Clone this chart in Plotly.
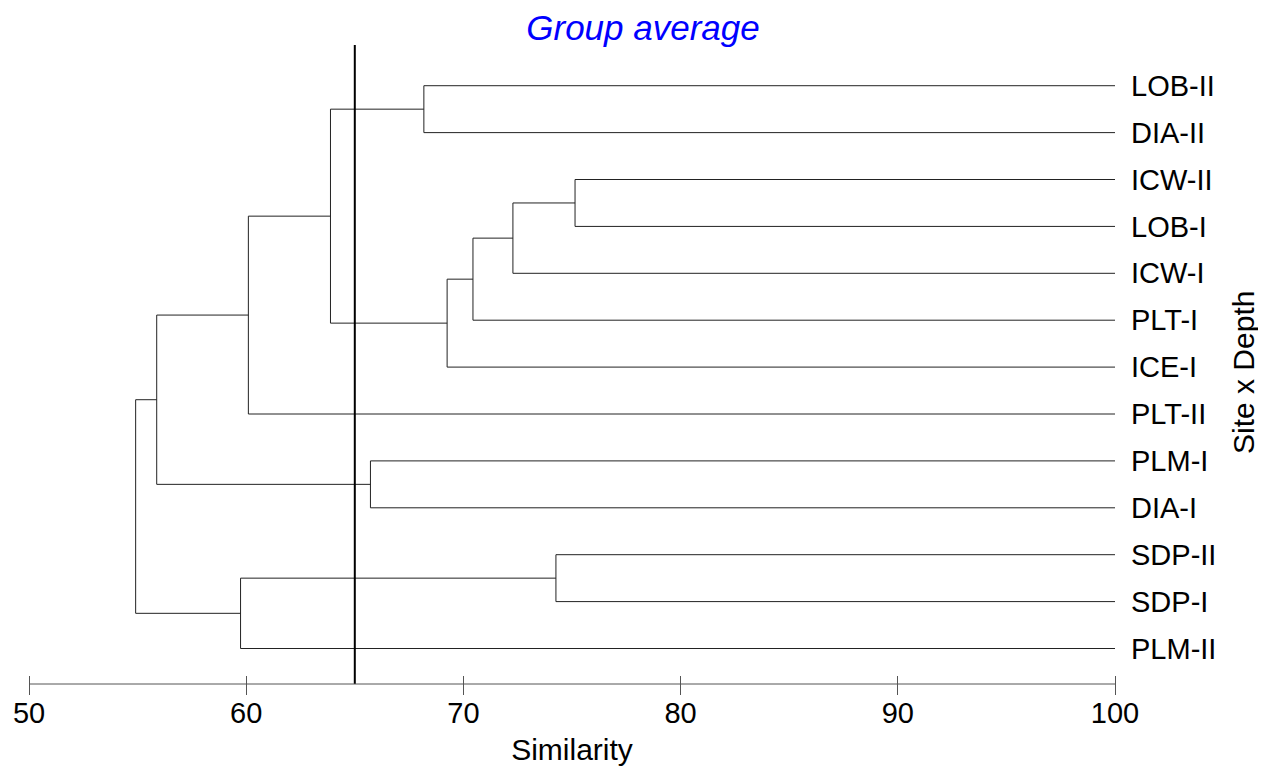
import plotly.graph_objects as go

# Leaves in display order (top to bottom)
leaves = ["LOB-II", "DIA-II", "ICW-II", "LOB-I", "ICW-I", "PLT-I", "ICE-I",
          "PLT-II", "PLM-I", "DIA-I", "SDP-II", "SDP-I", "PLM-II"]

# Merge steps: children (leaf name or "m<k>" for earlier merge) and similarity level
merge_left = ["LOB-II", "ICW-II", "m1", "m2", "m3", "m0", "m5", "PLM-I", "m6", "SDP-II", "m9", "m8"]
merge_right = ["DIA-II", "LOB-I", "ICW-I", "PLT-I", "ICE-I", "m4", "PLT-II", "DIA-I", "m7", "SDP-I", "PLM-II", "m10"]
merge_sim = [68.18, 75.14, 72.28, 70.44, 69.25, 63.88, 60.10, 65.72, 55.88, 74.26, 59.74, 54.91]

cut_level = 65
x_ticks = [50, 60, 70, 80, 90, 100]

# Build dendrogram coordinates
node_pos = {name: (100.0, float(i)) for i, name in enumerate(leaves)}
xs, ys = [], []
for k, (a, b, s) in enumerate(zip(merge_left, merge_right, merge_sim)):
    xa, ya = node_pos[a]
    xb, yb = node_pos[b]
    xs += [xa, s, s, xb, None]
    ys += [ya, ya, yb, yb, None]
    node_pos[f"m{k}"] = (s, (ya + yb) / 2)

FONT = "Liberation Sans, Arial, sans-serif"
W, H = 1258, 758
ML, MR, MT, MB = 21, 151, 37, 82
plot_h = H - MT - MB

fig = go.Figure()
fig.add_trace(go.Scatter(x=xs, y=ys, mode="lines",
                         line=dict(color="#222222", width=1),
                         hoverinfo="skip", showlegend=False))

# similarity cut line
fig.add_shape(type="line", x0=cut_level, x1=cut_level, xref="x",
              y0=0, y1=1, yref="paper",
              line=dict(color="black", width=2))
# x axis baseline
fig.add_shape(type="line", x0=50, x1=100, xref="x", y0=0, y1=0, yref="paper",
              line=dict(color="#555555", width=1))

fig.add_annotation(text="Site x Depth", textangle=-90, showarrow=False,
                   xref="paper", x=1, xanchor="center", xshift=128,
                   yref="paper", y=1 - (365 - MT) / plot_h, yanchor="middle",
                   font=dict(family=FONT, size=30, color="black"))

fig.update_layout(
    width=W, height=H,
    paper_bgcolor="white", plot_bgcolor="white",
    margin=dict(l=ML, r=MR, t=MT, b=MB, autoexpand=False),
    font=dict(family=FONT, size=29, color="black"),
    title=dict(text="Group average", x=635 / W, xref="container", xanchor="center",
               y=1 - 20 / H, yref="container", yanchor="middle",
               font=dict(family=FONT, size=35, color="#0000FF", style="italic")),
    xaxis=dict(range=[50, 100], tickvals=x_ticks, ticks="outside", ticklen=19,
               tickcolor="#555555", tickwidth=1, showline=False,
               anchor="free", position=9 / plot_h, automargin=False,
               ticklabelstandoff=-7,
               showgrid=False, zeroline=False,
               tickfont=dict(size=29),
               title=dict(text="Similarity", standoff=13, font=dict(size=30))),
    yaxis=dict(range=[12.757, -0.868], tickvals=list(range(len(leaves))),
               ticktext=leaves, side="right", ticks="", ticklabelstandoff=15,
               showline=False, showgrid=False, zeroline=False, automargin=False,
               tickfont=dict(size=29)),
)

fig.write_html("out.html")
